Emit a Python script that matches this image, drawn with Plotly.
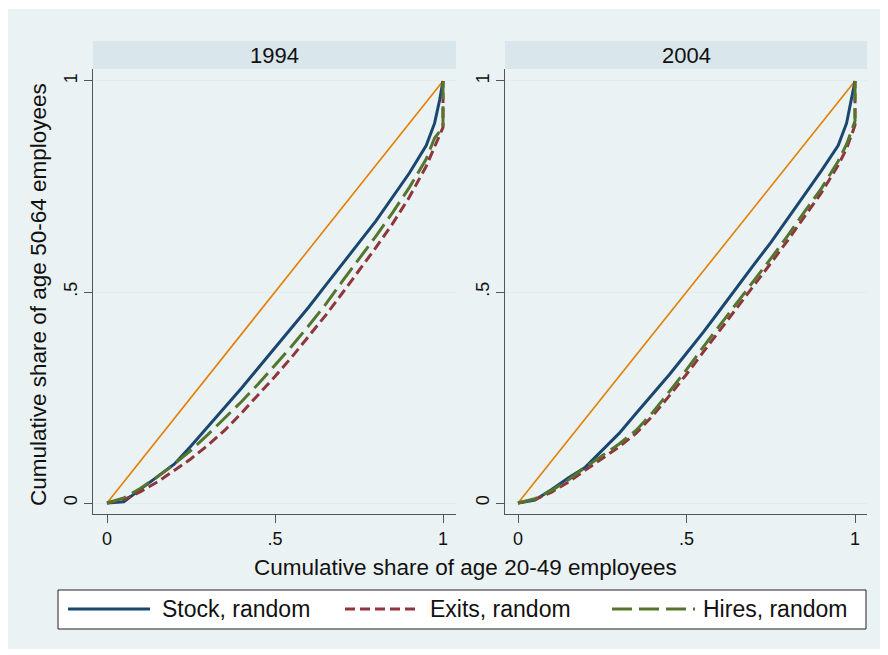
import plotly.graph_objects as go

# ---------------- data ----------------
panels = ["1994", "2004"]
series_names = ["Stock, random", "Exits, random", "Hires, random"]

x_grid = [0, 0.05, 0.1, 0.15, 0.2, 0.25, 0.3, 0.35, 0.4, 0.45, 0.5, 0.55, 0.6,
          0.65, 0.7, 0.75, 0.8, 0.85, 0.9, 0.95, 0.975, 1.0, 1.0]
x_stock = [0, 0.05, 0.1, 0.15, 0.2, 0.25, 0.3, 0.35, 0.4, 0.45, 0.5, 0.55, 0.6,
           0.65, 0.7, 0.75, 0.8, 0.85, 0.9, 0.95, 0.975, 0.99, 1.0]

stock_1994 = [0, 0.003, 0.033, 0.062, 0.092, 0.135, 0.18, 0.225, 0.272, 0.32, 0.368, 0.416, 0.464,
              0.515, 0.565, 0.617, 0.668, 0.725, 0.782, 0.847, 0.9, 0.955, 1.0]
exits_1994 = [0, 0.008, 0.027, 0.05, 0.077, 0.105, 0.137, 0.172, 0.213, 0.256, 0.3, 0.346, 0.394,
              0.444, 0.497, 0.55, 0.605, 0.662, 0.725, 0.798, 0.845, 0.89, 1.0]
hires_1994 = [0, 0.012, 0.035, 0.062, 0.092, 0.125, 0.162, 0.2, 0.24, 0.282, 0.326, 0.372, 0.42,
              0.47, 0.525, 0.578, 0.632, 0.688, 0.748, 0.815, 0.865, 0.89, 1.0]

stock_2004 = [0, 0.007, 0.032, 0.06, 0.085, 0.125, 0.165, 0.212, 0.258, 0.305, 0.355, 0.405, 0.458,
              0.512, 0.565, 0.617, 0.672, 0.73, 0.787, 0.847, 0.9, 0.955, 1.0]
exits_2004 = [0, 0.008, 0.026, 0.05, 0.078, 0.105, 0.133, 0.165, 0.207, 0.255, 0.305, 0.358, 0.41,
              0.463, 0.516, 0.568, 0.622, 0.68, 0.735, 0.8, 0.84, 0.895, 1.0]
hires_2004 = [0, 0.01, 0.03, 0.055, 0.085, 0.112, 0.14, 0.172, 0.215, 0.265, 0.316, 0.37, 0.423,
              0.475, 0.527, 0.579, 0.633, 0.69, 0.745, 0.81, 0.85, 0.905, 1.0]

equality_x = [0, 1]
equality_y = [0, 1]

tick_vals = [0, 0.5, 1]
tick_text = ["0", ".5", "1"]

# ---------------- style ----------------
OFF = 8                     # page body margin in the browser
W, H = 888 - OFF, 655 - OFF
FONT = "Liberation Sans, Arial, Helvetica, sans-serif"
BG = "#EAF2F3"
STRIP = "#D9E6EB"
GRID = "#E3ECEE"
AXIS = "#555555"
colors = ["#1A476F", "#90353B", "#55752F"]
dashes = ["solid", "10px,5px", "20px,7px"]
widths = [3, 3, 3]
ORANGE = "#E37E00"


def fx(p):
    return (p - OFF) / W


def fy(p):
    return 1 - (p - OFF) / H


data = {
    "1994": (x_stock, stock_1994, x_grid, exits_1994, x_grid, hires_1994),
    "2004": (x_stock, stock_2004, x_grid, exits_2004, x_grid, hires_2004),
}

fig = go.Figure()

axes_ids = [("x", "y"), ("x2", "y2")]
for (xa, ya), p in zip(axes_ids, panels):
    fig.add_trace(go.Scatter(x=equality_x, y=equality_y, mode="lines",
                             line=dict(color=ORANGE, width=1.6),
                             xaxis=xa, yaxis=ya, showlegend=False, hoverinfo="skip"))
    d = data[p]
    for i, name in enumerate(series_names):
        fig.add_trace(go.Scatter(x=d[2 * i], y=d[2 * i + 1], mode="lines", name=name,
                                 line=dict(color=colors[i], width=widths[i], dash=dashes[i]),
                                 xaxis=xa, yaxis=ya, showlegend=False))

# plot-area geometry (reference pixels)
left_dom = (93, 456)
right_dom = (505, 867)
top_px, bot_px = 69, 514

common_x = dict(showgrid=False, zeroline=False, showline=True, linecolor=AXIS, linewidth=1,
                ticks="outside", ticklen=8, tickcolor=AXIS, tickwidth=1,
                tickvals=tick_vals, ticktext=tick_text,
                tickfont=dict(family=FONT, size=18, color="#111111"), automargin=False)
common_y = dict(showgrid=True, gridcolor=GRID, gridwidth=1, zeroline=False, showline=True,
                linecolor=AXIS, linewidth=1, ticks="outside", ticklen=8, tickcolor=AXIS,
                tickwidth=1, tickvals=tick_vals, ticktext=tick_text, tickangle=-90,
                tickfont=dict(family=FONT, size=18, color="#111111"), automargin=False,
                range=[-0.026, 1.0284])

fig.update_layout(
    width=W, height=H,
    margin=dict(l=0, r=0, t=0, b=0),
    paper_bgcolor="white", plot_bgcolor="white",
    showlegend=False,
    xaxis=dict(domain=[fx(left_dom[0]), fx(left_dom[1])], range=[-0.0417, 1.0387],
               anchor="y", **common_x),
    yaxis=dict(domain=[fy(bot_px), fy(top_px)], anchor="x", **common_y),
    xaxis2=dict(domain=[fx(right_dom[0]), fx(right_dom[1])], range=[-0.0386, 1.0356],
                anchor="y2", **common_x),
    yaxis2=dict(domain=[fy(bot_px), fy(top_px)], anchor="x2", **common_y),
)

shapes = []
# graph region background
shapes.append(dict(type="rect", xref="paper", yref="paper", x0=fx(6), x1=fx(882),
                   y0=fy(649), y1=fy(9), fillcolor=BG, line=dict(width=0), layer="below"))
annotations = []
for dom, p in zip([left_dom, right_dom], panels):
    shapes.append(dict(type="rect", xref="paper", yref="paper", x0=fx(dom[0]), x1=fx(dom[1]),
                       y0=fy(69), y1=fy(41), fillcolor=STRIP, line=dict(width=0)))
    annotations.append(dict(xref="paper", yref="paper", x=fx((dom[0] + dom[1]) / 2), y=fy(55),
                            text=p, showarrow=False, xanchor="center", yanchor="middle",
                            font=dict(family=FONT, size=22, color="#111111")))

# axis titles
annotations.append(dict(xref="paper", yref="paper", x=fx(465), y=fy(567),
                        text="Cumulative share of age 20-49 employees", showarrow=False,
                        xanchor="center", yanchor="middle",
                        font=dict(family=FONT, size=22.5, color="#111111")))
annotations.append(dict(xref="paper", yref="paper", x=fx(38), y=fy(295), textangle=-90,
                        text="Cumulative share of age 50-64 employees", showarrow=False,
                        xanchor="center", yanchor="middle",
                        font=dict(family=FONT, size=22.5, color="#111111")))

# legend box
shapes.append(dict(type="rect", xref="paper", yref="paper", x0=fx(58), x1=fx(866),
                   y0=fy(629), y1=fy(590), fillcolor="white",
                   line=dict(color="#222222", width=1)))
leg_items = [(68, 150, 160), (345, 420, 428), (612, 695, 701)]
for i, (l0, l1, t0) in enumerate(leg_items):
    shapes.append(dict(type="line", xref="paper", yref="paper", x0=fx(l0), x1=fx(l1),
                       y0=fy(609), y1=fy(609),
                       line=dict(color=colors[i], width=widths[i], dash=dashes[i])))
    annotations.append(dict(xref="paper", yref="paper", x=fx(t0), y=fy(609),
                            text=series_names[i], showarrow=False, xanchor="left",
                            yanchor="middle", font=dict(family=FONT, size=23, color="#111111")))

fig.update_layout(shapes=shapes, annotations=annotations)

fig.write_html("out.html")
